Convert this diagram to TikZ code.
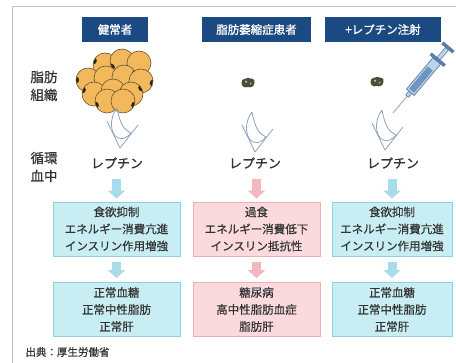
\documentclass[tikz,border=0pt]{standalone}
\usepackage{fontspec}
\setmainfont{Noto Sans CJK JP}[FakeBold=0.5]
\newfontfamily\jpbold{Noto Sans CJK JP}[FakeBold=1.2]
\usetikzlibrary{arrows.meta}

\definecolor{navy}{HTML}{1B4A82}
\definecolor{txt}{HTML}{333333}
\definecolor{bluefill}{HTML}{C8EEF3}
\definecolor{blueline}{HTML}{8CD2DE}
\definecolor{pinkfill}{HTML}{FADADD}
\definecolor{pinkline}{HTML}{EEB0B6}
\definecolor{bluearrow}{HTML}{A9DCEA}
\definecolor{pinkarrow}{HTML}{F3B7BF}
\definecolor{cellfill}{HTML}{F2B95C}
\definecolor{celledge}{HTML}{6E5432}
\definecolor{nucleus}{HTML}{2E2418}
\definecolor{vessel}{HTML}{8EA3BF}
\definecolor{blob}{HTML}{4D4D38}
\definecolor{framegray}{HTML}{C4C4C4}
\definecolor{barrel}{HTML}{BDD3EA}
\definecolor{liquid}{HTML}{6E95C2}
\definecolor{syredge}{HTML}{5A7DA6}

\tikzset{
  head/.style={fill=navy, text=white, minimum height=25pt, inner sep=0pt,
    font=\jpbold\fontsize{11.5}{13}\selectfont},
  sidelabel/.style={text=txt, align=center, font=\fontsize{13.5}{18}\selectfont},
  leptin/.style={text=txt, font=\fontsize{13}{15}\selectfont},
  effbox/.style={draw, line width=0.8pt, minimum height=54pt, inner sep=0pt,
    align=center, text=txt, font=\fontsize{11.5}{17}\selectfont},
  bluebox/.style={effbox, fill=bluefill, draw=blueline},
  pinkbox/.style={effbox, fill=pinkfill, draw=pinkline},
  blockarrow/.style={line width=9pt, -{Triangle[width=17pt,length=8pt]}},
  bluearr/.style={blockarrow, draw=bluearrow, fill=bluearrow},
  pinkarr/.style={blockarrow, draw=pinkarrow, fill=pinkarrow},
  vesselline/.style={draw=vessel, line width=0.8pt, line join=round},
}

% blood vessel with its flap; #1 = bottom of the V
\newcommand\vesselat[1]{%
  \begin{scope}[shift={#1}]
    \draw[vesselline] (-13,-27) -- (0,0) -- (18,-23);
    \draw[vesselline] (-3,-40) .. controls (-11,-30) and (-10,-14) .. (-2,-10)
      .. controls (3,-8) and (8,-11) .. (11,-15)
      .. controls (4,-18) and (0,-24) .. (-3,-40);
  \end{scope}}

% small shrunken fat deposit
\newcommand\blobat[1]{%
  \begin{scope}[shift={#1}, scale=1.3]
    \fill[blob] (-5,0) .. controls (-5,-4) and (-1,-3) .. (0,-4)
      .. controls (2,-3) and (6,-4) .. (5,0)
      .. controls (5,3) and (1,4) .. (0,3) .. controls (-2,4) and (-5,3) .. cycle;
    \fill[white!65!blob] (-1.5,-1) circle (0.9);
    \fill[white!65!blob] (2,0.5) circle (0.7);
  \end{scope}}

\begin{document}
\begin{tikzpicture}[x=1pt,y=-1pt]
\useasboundingbox (0,0) rectangle (456,363);
\fill[white] (0,0) rectangle (456,363);
\draw[framegray, line width=0.8pt] (12,363) -- (12,6) -- (456,6);

% column headers
\node[head, minimum width=66pt]  (h1) at (115,29.5) {健常者};
\node[head, minimum width=109pt] (h2) at (256.5,29.5) {脂肪萎縮症患者};
\node[head, minimum width=116pt] (h3) at (383,29.5) {+レプチン注射};

% row labels
\node[sidelabel] (lfat)   at (44,86)  {脂肪\\組織};
\node[sidelabel] (lblood) at (44,167) {循環\\血中};

% healthy adipose tissue: a cluster of fat cells
\foreach \x/\y/\a in {105/65/200, 122/61/150, 139/63/60,
                      88/80/180, 106/78/20, 124/77/340, 141/81/10,
                      94/94/200, 113/91/0, 131/94/330,
                      107/101/160, 123/101/20} {
  \fill[cellfill] (\x,\y) circle (12);
  \begin{scope}
    \clip (\x,\y) circle (12);
    \fill[nucleus] (\x,\y) ++(\a:12.5) circle (3.6);
  \end{scope}
  \draw[celledge, line width=0.6pt] (\x,\y) circle (12);
}

\blobat{(248,83)}
\blobat{(377,82)}

\vesselat{(120,148)}
\vesselat{(255,152)}
\vesselat{(385,150)}

% syringe injecting leptin
\begin{scope}[shift={(393,113)}, rotate=50]
  \draw[vessel, line width=0.8pt] (0,0) -- (22,0);
  \filldraw[fill=barrel, draw=syredge, line width=0.6pt] (22,-1.8) rectangle (27,1.8);
  \filldraw[fill=barrel, draw=syredge, line width=0.7pt] (27,-5) rectangle (68,5);
  \fill[liquid] (29,-3.2) rectangle (58,3.2);
  \filldraw[fill=syredge, draw=syredge] (68,-9) rectangle (71,9);
  \filldraw[fill=barrel, draw=syredge, line width=0.6pt] (71,-2) rectangle (84,2);
  \filldraw[fill=syredge, draw=syredge] (84,-7) rectangle (87,7);
\end{scope}

% circulating leptin
\node[leptin] (lep1) at (117,163) {レプチン};
\node[leptin] (lep2) at (255,163) {レプチン};
\node[leptin] (lep3) at (393,163) {レプチン};

% effect boxes
\node[bluebox, minimum width=127pt] (a1) at (116.5,229) {食欲抑制\\エネルギー消費亢進\\インスリン作用増強};
\node[pinkbox, minimum width=127pt] (a2) at (256.5,229) {過食\\エネルギー消費低下\\インスリン抵抗性};
\node[bluebox, minimum width=120pt] (a3) at (392,229) {食欲抑制\\エネルギー消費亢進\\インスリン作用増強};

\node[bluebox, minimum width=127pt] (b1) at (116.5,309.5) {正常血糖\\正常中性脂肪\\正常肝};
\node[pinkbox, minimum width=127pt] (b2) at (256.5,309.5) {糖尿病\\高中性脂肪血症\\脂肪肝};
\node[bluebox, minimum width=120pt] (b3) at (392,309.5) {正常血糖\\正常中性脂肪\\正常肝};

% flow arrows
\draw[bluearr, shorten <=7pt, shorten >=3pt] (lep1.south -| a1.north) -- (a1.north);
\draw[pinkarr, shorten <=7pt, shorten >=3pt] (lep2.south -| a2.north) -- (a2.north);
\draw[bluearr, shorten <=7pt, shorten >=3pt] (lep3.south -| a3.north) -- (a3.north);
\draw[bluearr, shorten <=6pt, shorten >=4pt] (a1.south) -- (b1.north);
\draw[pinkarr, shorten <=6pt, shorten >=4pt] (a2.south) -- (b2.north);
\draw[bluearr, shorten <=6pt, shorten >=4pt] (a3.south) -- (b3.north);

% source
\node[text=txt, anchor=west, font=\fontsize{10.5}{12}\selectfont] (src) at (22,352) {出典：厚生労働省};
\end{tikzpicture}
\end{document}
